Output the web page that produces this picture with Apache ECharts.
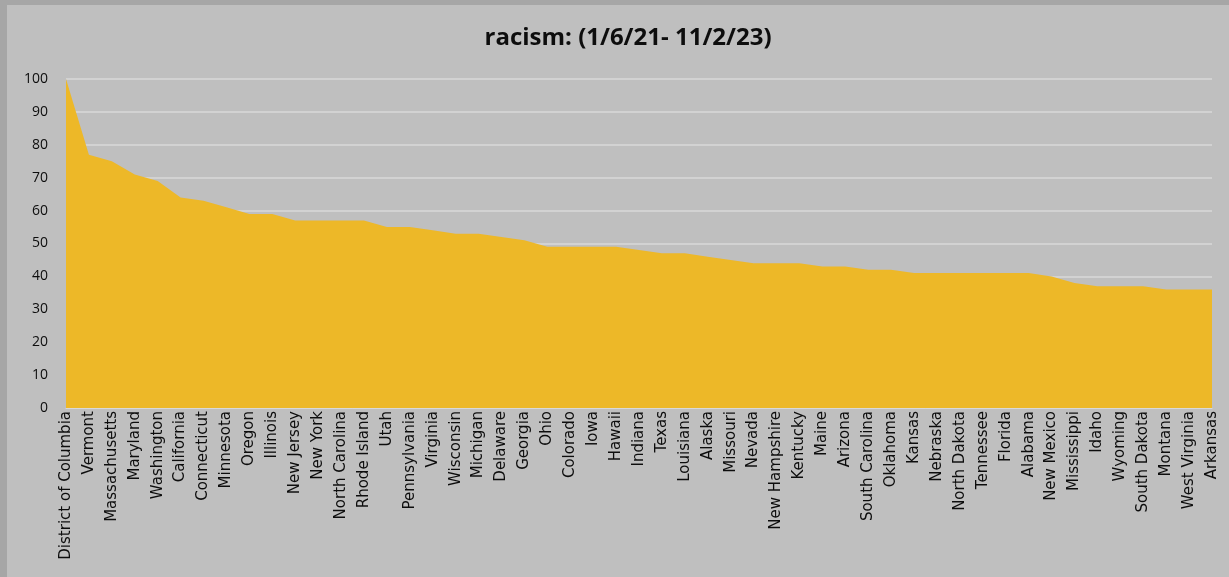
<!DOCTYPE html>
<html>
<head>
<meta charset="utf-8">
<script src="https://cdn.jsdelivr.net/npm/echarts@6/dist/echarts.min.js"></script>
<style>
html,body{margin:0;padding:0;background:#bfbfbf;}
#c{width:1229px;height:577px;}
</style>
</head>
<body>
<div id="c"></div>
<script>
const titleText = 'racism: (1/6/21- 11/2/23)';
const states = ['District of Columbia','Vermont','Massachusetts','Maryland','Washington','California','Connecticut','Minnesota','Oregon','Illinois','New Jersey','New York','North Carolina','Rhode Island','Utah','Pennsylvania','Virginia','Wisconsin','Michigan','Delaware','Georgia','Ohio','Colorado','Iowa','Hawaii','Indiana','Texas','Louisiana','Alaska','Missouri','Nevada','New Hampshire','Kentucky','Maine','Arizona','South Carolina','Oklahoma','Kansas','Nebraska','North Dakota','Tennessee','Florida','Alabama','New Mexico','Mississippi','Idaho','Wyoming','South Dakota','Montana','West Virginia','Arkansas'];
const values = [100,77,75,71,69,64,63,61,59,59,57,57,57,57,55,55,54,53,53,52,51,49,49,49,49,48,47,47,46,45,44,44,44,43,43,42,42,41,41,41,41,41,41,40,38,37,37,37,36,36,36];
const yTicks = [0,10,20,30,40,50,60,70,80,90,100];

const chart = echarts.init(document.getElementById('c'));
chart.setOption({
  backgroundColor: '#bfbfbf',
  animation: false,
  graphic: [
    {type:'rect', shape:{x:0,y:0,width:7,height:577}, style:{fill:'#a6a6a6'}, silent:true},
    {type:'rect', shape:{x:0,y:0,width:1229,height:5}, style:{fill:'#a6a6a6'}, silent:true}
  ],
  title: {
    text: titleText,
    left: 623,
    textAlign: 'center',
    top: 21,
    textStyle: {fontFamily:'Open Sans', fontWeight:'bold', fontSize:24, color:'#0d0d0d'}
  },
  grid: {left: 66, right: 17, top: 79, bottom: 169},
  xAxis: {
    type: 'category',
    data: states,
    boundaryGap: false,
    axisLine: {show:true, lineStyle:{color:'#d9d9d9', width:1}},
    axisTick: {show:false},
    axisLabel: {
      interval: 0, rotate: 90, margin: 3,
      fontFamily: 'DejaVu Sans', fontSize: 15, color: '#0d0d0d'
    },
    splitLine: {show:false}
  },
  yAxis: {
    type: 'value',
    min: yTicks[0], max: yTicks[yTicks.length-1], interval: 10,
    axisLine: {show:false},
    axisTick: {show:false},
    axisLabel: {fontFamily:'Open Sans', fontSize:14, color:'#0d0d0d', margin: 18},
    splitLine: {lineStyle:{color:'#d9d9d9', width:1.5}}
  },
  series: [{
    type: 'line',
    data: values,
    symbol: 'none',
    lineStyle: {width: 0},
    areaStyle: {color: '#edb828', opacity: 1},
    itemStyle: {color: '#edb828'}
  }]
});
</script>
</body>
</html>
